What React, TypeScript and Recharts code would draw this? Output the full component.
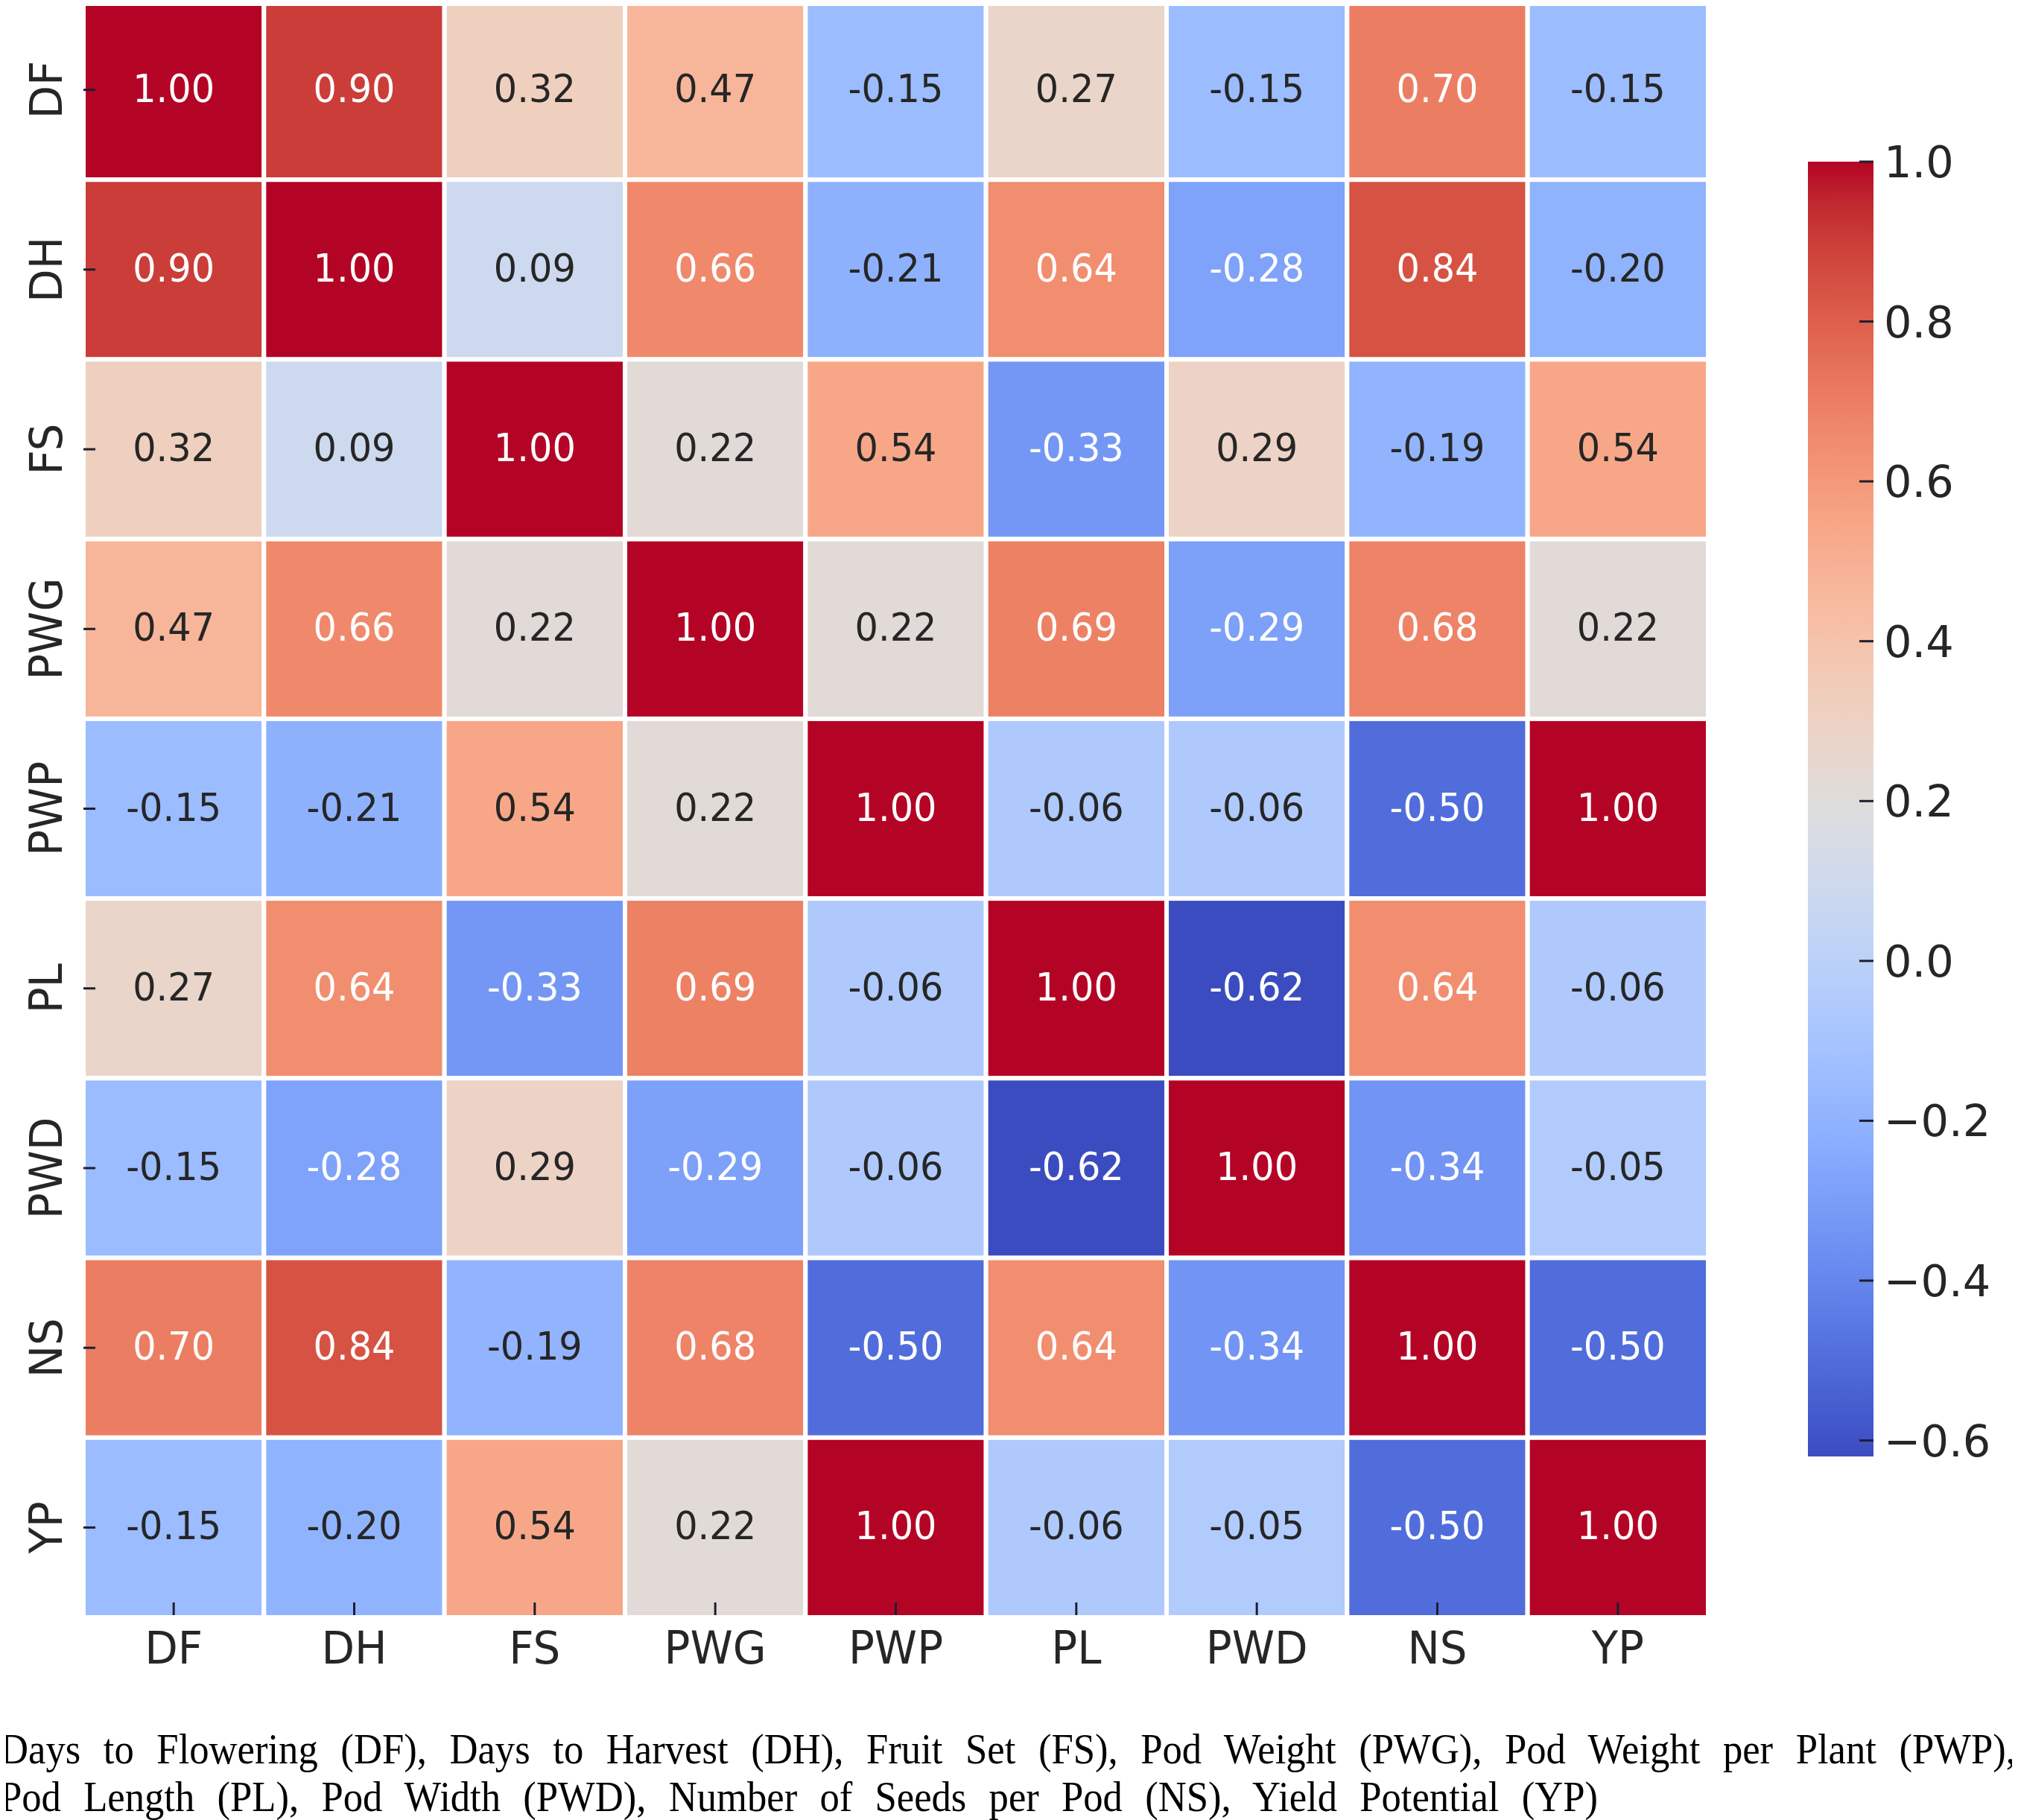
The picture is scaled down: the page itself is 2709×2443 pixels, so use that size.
import { ScatterChart, Scatter, XAxis, YAxis, BarChart, Bar } from "recharts";

// trait order for both axes
const TRAITS = ["DF", "DH", "FS", "PWG", "PWP", "PL", "PWD", "NS", "YP"];

// correlation rows, one per trait
const DF = [1.0, 0.9, 0.32, 0.47, -0.15, 0.27, -0.15, 0.7, -0.15];
const DH = [0.9, 1.0, 0.09, 0.66, -0.21, 0.64, -0.28, 0.84, -0.2];
const FS = [0.32, 0.09, 1.0, 0.22, 0.54, -0.33, 0.29, -0.19, 0.54];
const PWG = [0.47, 0.66, 0.22, 1.0, 0.22, 0.69, -0.29, 0.68, 0.22];
const PWP = [-0.15, -0.21, 0.54, 0.22, 1.0, -0.06, -0.06, -0.5, 1.0];
const PL = [0.27, 0.64, -0.33, 0.69, -0.06, 1.0, -0.62, 0.64, -0.06];
const PWD = [-0.15, -0.28, 0.29, -0.29, -0.06, -0.62, 1.0, -0.34, -0.05];
const NS = [0.7, 0.84, -0.19, 0.68, -0.5, 0.64, -0.34, 1.0, -0.5];
const YP = [-0.15, -0.2, 0.54, 0.22, 1.0, -0.06, -0.05, -0.5, 1.0];
const MATRIX = [DF, DH, FS, PWG, PWP, PL, PWD, NS, YP];

const V_MIN = -0.62;
const V_MAX = 1.0;
const CBAR_TICKS = [-0.6, -0.4, -0.2, 0, 0.2, 0.4, 0.6, 0.8, 1.0];

const CAPTION_1 =
  "Days to Flowering (DF), Days to Harvest (DH), Fruit Set (FS), Pod Weight (PWG), Pod Weight per Plant (PWP),";
const CAPTION_2 =
  "Pod Length (PL), Pod Width (PWD), Number of Seeds per Pod (NS), Yield Potential (YP)";

// coolwarm control points (Moreland), evenly spaced 0..1
const COOLWARM: [number, number, number][] = [
  [59, 76, 192], [68, 90, 204], [77, 104, 215], [87, 117, 225],
  [98, 130, 234], [108, 142, 241], [119, 154, 247], [130, 165, 251],
  [141, 176, 254], [152, 185, 255], [163, 194, 255], [174, 201, 253],
  [184, 208, 249], [194, 213, 244], [204, 217, 238], [213, 219, 230],
  [221, 221, 221], [229, 216, 209], [236, 211, 197], [241, 204, 185],
  [245, 196, 173], [247, 187, 160], [247, 177, 148], [247, 166, 135],
  [244, 154, 123], [241, 141, 111], [236, 127, 99], [229, 112, 88],
  [222, 96, 77], [213, 80, 66], [203, 62, 56], [192, 40, 47],
  [180, 4, 38],
];

const FONT = "'DejaVu Sans', sans-serif";

// chart geometry
const HM_W = 2300;
const HM_H = 2261;
const HM_MARGIN = { top: 0, right: 7, left: 0, bottom: 0 };
const Y_AXIS_W = 112;
const X_AXIS_H = 90;
const PLOT_W = HM_W - HM_MARGIN.left - HM_MARGIN.right - Y_AXIS_W;
const PLOT_H = HM_H - HM_MARGIN.top - HM_MARGIN.bottom - X_AXIS_H;

function coolwarmRgb(t: number): [number, number, number] {
  const c = Math.min(1, Math.max(0, t)) * (COOLWARM.length - 1);
  const i = Math.min(COOLWARM.length - 2, Math.floor(c));
  const f = c - i;
  const a = COOLWARM[i];
  const b = COOLWARM[i + 1];
  return [0, 1, 2].map((k) => Math.round(a[k] + (b[k] - a[k]) * f)) as [number, number, number];
}

const toHex = (rgb: number[]) =>
  "#" + rgb.map((v) => v.toString(16).padStart(2, "0")).join("");

// same rule seaborn uses for annotation contrast
function textColorFor(rgb: number[]) {
  const lin = rgb.map((v) => {
    const c = v / 255;
    return c <= 0.03928 ? c / 12.92 : Math.pow((c + 0.055) / 1.055, 2.4);
  });
  const lum = 0.2126 * lin[0] + 0.7152 * lin[1] + 0.0722 * lin[2];
  return lum > 0.408 ? "#262626" : "#ffffff";
}

const cells = MATRIX.flatMap((row, r) =>
  row.map((v, c) => ({ x: c + 0.5, y: r + 0.5, v }))
);
const centerTicks = TRAITS.map((_, i) => i + 0.5);

// gradient stops ordered top (vmax) to bottom (vmin)
const gradientStops = COOLWARM.map((c, i) => ({
  offset: 1 - i / (COOLWARM.length - 1),
  color: toHex(c),
})).reverse();

function HeatCell(props: any) {
  const { cx, cy, payload } = props;
  const w = PLOT_W / TRAITS.length;
  const h = PLOT_H / TRAITS.length;
  const rgb = coolwarmRgb((payload.v - V_MIN) / (V_MAX - V_MIN));
  return (
    <g>
      <rect
        x={cx - w / 2}
        y={cy - h / 2}
        width={w}
        height={h}
        fill={toHex(rgb)}
        stroke="#ffffff"
        strokeWidth={6}
      />
      <g transform={`translate(${cx},${cy + 16}) scale(0.95,1)`}>
        <text textAnchor="middle" fontSize={52} fontFamily={FONT} fill={textColorFor(rgb)}>
          {payload.v.toFixed(2)}
        </text>
      </g>
    </g>
  );
}

function XTick({ x, y, payload }: any) {
  return (
    <g>
      <line x1={x} x2={x} y1={y - 20} y2={y - 3} stroke="#1e1e30" strokeWidth={3} />
      <g transform={`translate(${x},${y + 62}) scale(0.95,1)`}>
        <text textAnchor="middle" fontSize={61} fontFamily={FONT} fill="#262626">
          {TRAITS[Math.floor(payload.value)]}
        </text>
      </g>
    </g>
  );
}

function YTick({ x, y, payload }: any) {
  return (
    <g>
      <line x1={x} x2={x + 16} y1={y} y2={y} stroke="#1e1e30" strokeWidth={3} />
      <g transform={`translate(${x - 29},${y}) rotate(-90) scale(0.95,1)`}>
        <text textAnchor="middle" fontSize={61} fontFamily={FONT} fill="#262626">
          {TRAITS[Math.floor(payload.value)]}
        </text>
      </g>
    </g>
  );
}

function CbarTick({ x, y, payload }: any) {
  const v = payload.value as number;
  const label = v < 0 ? "\u2212" + Math.abs(v).toFixed(1) : v.toFixed(1);
  return (
    <g>
      <line x1={x - 19} x2={x} y1={y} y2={y} stroke="#1e1e30" strokeWidth={3} />
      <g transform={`translate(${x + 14},${y + 21})`}>
        <text textAnchor="start" fontSize={59} fontFamily={FONT} fill="#262626">
          {label}
        </text>
      </g>
    </g>
  );
}

const cbarData = [{ name: "scale", span: [V_MIN, V_MAX] }];

export default function App() {
  const captionStyle = {
    position: "absolute" as const,
    left: 0,
    fontFamily: "'Liberation Serif', serif",
    fontSize: 56,
    lineHeight: "56px",
    color: "#000",
    textAlign: "justify" as const,
    textAlignLast: "justify" as const,
    transform: "scaleX(0.94)",
    transformOrigin: "0 0",
  };

  return (
    <div
      style={{
        position: "relative",
        width: 2709,
        height: 2443,
        marginLeft: -8,
        marginTop: -8,
        background: "#ffffff",
        overflow: "hidden",
      }}
    >
      <div style={{ position: "absolute", left: 0, top: 0 }}>
        <ScatterChart width={HM_W} height={HM_H} margin={HM_MARGIN}>
          <XAxis
            type="number"
            dataKey="x"
            domain={[0, TRAITS.length]}
            ticks={centerTicks}
            interval={0}
            height={X_AXIS_H}
            axisLine={false}
            tickLine={false}
            tickSize={0}
            tickMargin={0}
            tick={<XTick />}
          />
          <YAxis
            type="number"
            dataKey="y"
            domain={[0, TRAITS.length]}
            reversed
            ticks={centerTicks}
            interval={0}
            width={Y_AXIS_W}
            axisLine={false}
            tickLine={false}
            tickSize={0}
            tickMargin={0}
            tick={<YTick />}
          />
          <Scatter data={cells} shape={<HeatCell />} isAnimationActive={false} />
        </ScatterChart>
      </div>

      <div style={{ position: "absolute", left: 2427, top: 0 }}>
        <BarChart
          width={282}
          height={2060}
          data={cbarData}
          margin={{ top: 217, right: 0, left: 0, bottom: 105 }}
          barCategoryGap={0}
          barGap={0}
        >
          <defs>
            <linearGradient id="coolwarmBar" x1="0" y1="0" x2="0" y2="1">
              {gradientStops.map((s, i) => (
                <stop key={i} offset={s.offset} stopColor={s.color} />
              ))}
            </linearGradient>
          </defs>
          <XAxis dataKey="name" hide />
          <YAxis
            orientation="right"
            type="number"
            domain={[V_MIN, V_MAX]}
            ticks={CBAR_TICKS}
            interval={0}
            width={194}
            axisLine={false}
            tickLine={false}
            tickSize={0}
            tickMargin={0}
            tick={<CbarTick />}
          />
          <Bar dataKey="span" fill="url(#coolwarmBar)" isAnimationActive={false} />
        </BarChart>
      </div>

      <div style={{ ...captionStyle, top: 2320, width: 2706 / 0.94 }}>{CAPTION_1}</div>
      <div style={{ ...captionStyle, top: 2384, width: 2145 / 0.94 }}>{CAPTION_2}</div>
    </div>
  );
}
